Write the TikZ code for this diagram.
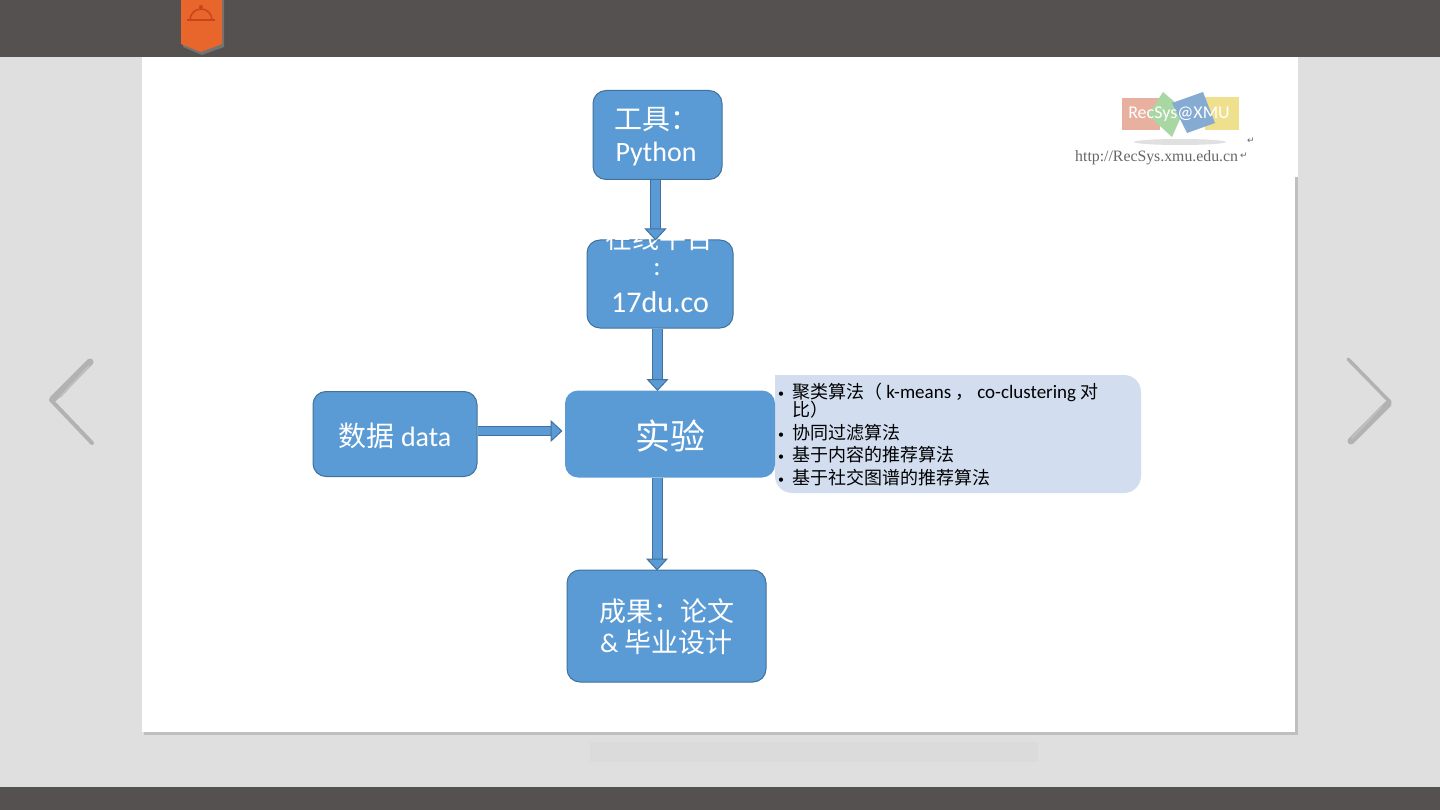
\documentclass[tikz,border=0pt]{standalone}
\usepackage{fontspec}
\usetikzlibrary{arrows.meta}
\setmainfont{Carlito}
\newfontfamily\cjk{Noto Sans CJK SC}
\newfontfamily\logofont{Liberation Serif}
\newfontfamily\symfont{DejaVu Sans}
\definecolor{boxblue}{HTML}{5B9BD5}
\definecolor{boxedge}{HTML}{41719C}
\definecolor{listbg}{HTML}{D2DEEF}
\definecolor{pagebg}{HTML}{DFDFDF}
\definecolor{barbg}{HTML}{555150}
\definecolor{badge}{HTML}{E8652B}
\definecolor{badgedark}{HTML}{C8441C}
\definecolor{logored}{HTML}{E8B09F}
\definecolor{logoyellow}{HTML}{EFE08E}
\definecolor{logogreen}{HTML}{A9D7A3}
\definecolor{logoblue}{HTML}{86ABD2}
\tikzset{
  flowbox/.style={draw=boxedge, line width=1pt, fill=boxblue, rounded corners=13pt, inner sep=0pt},
  flowlabel/.style={text=white, align=center, inner sep=0pt, font=\fontsize{27}{31}\selectfont},
  flowline/.style={draw=boxedge, double=boxblue, double distance=9pt, line width=1pt, shorten >=-1pt, -{Triangle[width=22pt,length=12pt,fill=boxblue,color=boxedge,line width=1pt]}},
  listitem/.style={anchor=west, inner sep=0pt, text=black, font=\fontsize{18}{18}\selectfont},
  chevron/.style={line cap=round, color=black!30},
}
\newcommand{\listdot}{\makebox[14pt][l]{\raisebox{1pt}{\fontsize{12}{12}\selectfont•}}}
\newcommand{\latinpart}[1]{{\fontsize{19}{18}\selectfont #1}}
\begin{document}
\begin{tikzpicture}[x=1pt, y=-1pt]
\useasboundingbox (0,0) rectangle (1440,810);
% page
\fill[pagebg] (0,0) rectangle (1440,810);
\fill[black!14] (590,742) rectangle (1038,762);
\fill[barbg] (0,0) rectangle (1440,57);
\fill[barbg] (0,787) rectangle (1440,810);
\fill[black!25] (144,177) rectangle (1298,735);
\fill[white] (142,57) rectangle (1295,732);
\fill[white] (1295,57) rectangle (1298,177);
% badge
\fill[black!55] (183,0) -- (183,47) -- (202,55) -- (224,47) -- (224,0) -- cycle;
\fill[badge] (181,0) -- (181,44) -- (201,52) -- (222,44) -- (222,0) -- cycle;
\draw[badgedark, line width=1.5pt] (187,20) -- (215,20);
\draw[badgedark, line width=1.5pt] (190,20) arc (180:360:11);
\fill[badgedark] (201,7) circle (2);
% chevrons
\draw[chevron, line width=7pt] (53,399) -- (90,362);
\draw[chevron, line width=4pt] (51,400) -- (92,443);
\draw[white!75!black, line width=2pt, line cap=round] (60,397) -- (89,366);
\draw[chevron, line width=3.5pt] (1348,359) -- (1390,402);
\draw[chevron, line width=7pt] (1388,404) -- (1351,441);
\draw[white!75!black, line width=2pt, line cap=round] (1381,407) -- (1352,438);
% logo
\fill[black!12] (1180,142) ellipse (46 and 3);
\fill[logored] (1122,98) rectangle (1160,130);
\fill[logoyellow] (1205,97) rectangle (1239,130);
\fill[logogreen] (1163,92) -- (1184,110) -- (1172,137) -- (1148,115) -- cycle;
\fill[logoblue] (1172,103) -- (1203,92) -- (1215,123) -- (1187,133) -- cycle;
\node[text=white, inner sep=0pt, font=\fontsize{18}{18}\selectfont] (logo) at (1179,114) {RecSys@XMU};
\node[text=black!60, inner sep=0pt, anchor=west, font=\logofont\fontsize{15.8}{16}\selectfont] (url) at (1075,158) {http://RecSys.xmu.edu.cn};
\node[text=black!60, inner sep=0pt, font=\symfont\fontsize{9}{9}\selectfont] (urlmark) at (1244,156) {↵};
\node[text=black!60, inner sep=0pt, font=\symfont\fontsize{9}{9}\selectfont] (logomark) at (1251,141) {↵};
% list
\fill[listbg, rounded corners=17pt] (775,375) -- (1141,375) -- (1141,493) -- (775,493) [sharp corners] -- cycle;
\node[listitem] (item1) at (778,392) {\listdot{\cjk 聚类算法（} \latinpart{k-means} {\cjk ，} \latinpart{co-clustering} {\cjk 对}};
\node[listitem] (item1b) at (792,410) {\cjk 比）};
\node[listitem] (item2) at (778,433) {\listdot{\cjk 协同过滤算法}};
\node[listitem] (item3) at (778,455) {\listdot{\cjk 基于内容的推荐算法}};
\node[listitem] (item4) at (778,478) {\listdot{\cjk 基于社交图谱的推荐算法}};
% boxes
\node[flowbox, minimum width=129pt, minimum height=89pt] (tool) at (657.5,135) {};
\node[flowbox, minimum width=146pt, minimum height=88pt] (platform) at (660,284) {};
\node[flowbox, minimum width=164pt, minimum height=85pt] (data) at (395,434) {};
\node[flowbox, draw=none, minimum width=210pt, minimum height=87pt] (expt) at (670,434) {};
\node[flowbox, minimum width=199pt, minimum height=112pt] (result) at (666.5,626) {};
\node[flowlabel, font=\fontsize{28}{32}\selectfont] (toollabel) at (656,136.5) {{\cjk 工具：}\\Python};
\node[flowlabel] (platformtop) at (659,238) {\cjk 在线平台};
\node[flowlabel] (platformcolon) at (657,270) {:};
\node[flowlabel, font=\fontsize{30}{32}\selectfont] (platformname) at (660,302) {17du.co};
\node[flowlabel, font=\fontsize{28}{32}\selectfont] (datalabel) at (395,435.5) {{\cjk 数据} data};
\node[flowlabel, font=\cjk\fontsize{35}{40}\selectfont] (exptlabel) at (670,436) {实验};
\node[flowlabel] (resultlabel) at (666.5,627) {{\cjk 成果：论文}\\\& {\cjk 毕业设计}};
% arrows
\draw[flowline] ([xshift=-2pt]tool.south) -- ([xshift=-4.5pt]platform.north);
\draw[flowline] ([xshift=-2.5pt]platform.south) -- ([xshift=-12.5pt]expt.north);
\draw[flowline, double distance=8pt] ([yshift=3pt]data.east) -- ([xshift=-3pt,yshift=3pt]expt.west);
\draw[flowline] ([xshift=-13pt]expt.south) -- ([xshift=-9.5pt]result.north);
\end{tikzpicture}
\end{document}
